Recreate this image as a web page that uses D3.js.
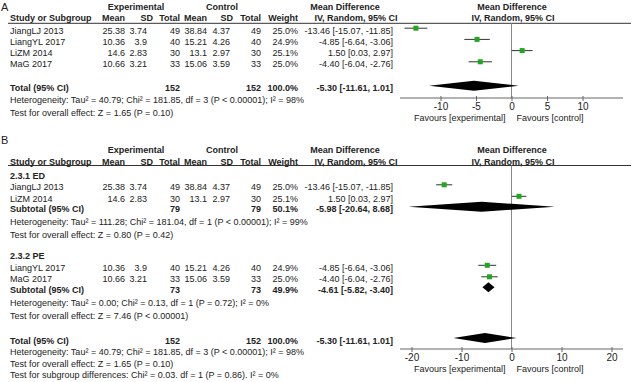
<!DOCTYPE html>
<html>
<head>
<meta charset="utf-8">
<script src="https://cdn.jsdelivr.net/npm/d3@7"></script>
<style>
    body { margin: 0; background: #fff; }
    svg text { font-family: Arial, "Liberation Sans", sans-serif; font-size: 9px; fill: #222; }
    svg text.b { font-weight: bold; }
</style>
</head>
<body>
<div id="chart"></div>
<script>
// study data (same four studies used by both panels)
const studies = ["JiangLJ 2013", "LiangYL 2017", "LiZM 2014", "MaG 2017"];
const expMean = [25.38, 10.36, 14.6, 10.66];
const expSD = [3.74, 3.9, 2.83, 3.21];
const expN = [49, 40, 30, 33];
const ctrlMean = [38.84, 15.21, 13.1, 15.06];
const ctrlSD = [4.37, 4.26, 2.97, 3.59];
const ctrlN = [49, 40, 30, 33];
const weight = [25.0, 24.9, 25.1, 25.0];
const md = [-13.46, -4.85, 1.50, -4.40];
const ciLow = [-15.07, -6.64, 0.03, -6.04];
const ciHigh = [-11.85, -3.06, 2.97, -2.76];

// pooled estimates
const subgroups = ["2.3.1 ED", "2.3.2 PE"];
const subgroupStudies = [[0, 2], [1, 3]];
const subgroupN = [[79, 79], [73, 73]];
const subgroupWeight = [50.1, 49.9];
const subgroupMD = [-5.98, -4.61];
const subgroupLow = [-20.64, -5.82];
const subgroupHigh = [8.68, -3.40];
const subgroupHet = [
    "Heterogeneity: Tau² = 111.28; Chi² = 181.04, df = 1 (P < 0.00001); I² = 99%",
    "Heterogeneity: Tau² = 0.00; Chi² = 0.13, df = 1 (P = 0.72); I² = 0%"
];
const subgroupTest = [
    "Test for overall effect: Z = 0.80 (P = 0.42)",
    "Test for overall effect: Z = 7.46 (P < 0.00001)"
];
const totalN = [152, 152];
const totalWeight = 100.0;
const totalMD = -5.30, totalLow = -11.61, totalHigh = 1.01;
const totalHet = "Heterogeneity: Tau² = 40.79; Chi² = 181.85, df = 3 (P < 0.00001); I² = 98%";
const totalTest = "Test for overall effect: Z = 1.65 (P = 0.10)";
const subgroupDiff = "Test for subgroup differences: Chi² = 0.03. df = 1 (P = 0.86). I² = 0%";

const ticksA = [-10, -5, 0, 5, 10];
const ticksB = [-20, -10, 0, 10, 20];
const domainA = [-15.7, 15.7];
const domainB = [-22.3, 22.3];

const f2 = v => v.toFixed(2);
const f1 = v => v.toFixed(1);
const ciText = (m, l, h) => `${f2(m)} [${f2(l)}, ${f2(h)}]`;

const svg = d3.select('#chart')
    .append('svg')
    .attr('width', 633)
    .attr('height', 382);

// column anchors (text-anchor end unless noted)
const col = { study: 10, em: 125, esd: 147, en: 180, cm: 207, csd: 230, cn: 261, w: 298, ci: 393 };
const plotRange = [400, 623];
const markShift = -2.5;

function txt(g, x, y, s, anchor, bold) {
    return g.append('text')
        .attr('x', x).attr('y', y).attr('dy', '0.35em')
        .attr('text-anchor', anchor || 'start')
        .attr('class', bold ? 'b' : null)
        .text(s);
}

function drawPanel(p) {
    const g = svg.append('g');
    const x = d3.scaleLinear().domain(p.domain).range(plotRange);
    const sq = d3.scaleSqrt().domain([0, 25]).range([0, 5]);

    // headers
    g.append('text').attr('x', 1).attr('y', p.labelY).attr('dy', '0.35em')
        .style('font-size', '11px').text(p.label);
    txt(g, 136, p.head, 'Experimental', 'middle', true);
    txt(g, 222, p.head, 'Control', 'middle', true);
    txt(g, 345, p.head, 'Mean Difference', 'middle', true);
    txt(g, 512, p.head, 'Mean Difference', 'middle', true);
    const h2 = p.head + 11.7;
    txt(g, col.study, h2, 'Study or Subgroup', 'start', true);
    txt(g, 125, h2, 'Mean', 'end', true);
    txt(g, 153, h2, 'SD', 'end', true);
    txt(g, 180, h2, 'Total', 'end', true);
    txt(g, 207, h2, 'Mean', 'end', true);
    txt(g, 233, h2, 'SD', 'end', true);
    txt(g, 261, h2, 'Total', 'end', true);
    txt(g, 298, h2, 'Weight', 'end', true);
    txt(g, 356, h2, 'IV, Random, 95% CI', 'middle', true);
    txt(g, 513, h2, 'IV, Random, 95% CI', 'middle', true);

    g.append('line')
        .attr('x1', 8).attr('x2', 631)
        .attr('y1', p.rule).attr('y2', p.rule)
        .attr('stroke', '#333').attr('stroke-width', 1);

    // zero line
    g.append('line')
        .attr('x1', x(0)).attr('x2', x(0))
        .attr('y1', p.rule).attr('y2', p.axisY)
        .attr('stroke', '#888').attr('stroke-width', 1);

    p.rows.forEach(r => {
        if (r.type === 'study') {
            const i = r.i;
            txt(g, col.study, r.y, studies[i]);
            txt(g, col.em, r.y, expMean[i], 'end');
            txt(g, col.esd, r.y, expSD[i], 'end');
            txt(g, col.en, r.y, expN[i], 'end');
            txt(g, col.cm, r.y, ctrlMean[i], 'end');
            txt(g, col.csd, r.y, ctrlSD[i], 'end');
            txt(g, col.cn, r.y, ctrlN[i], 'end');
            txt(g, col.w, r.y, f1(weight[i]) + '%', 'end');
            txt(g, col.ci, r.y, ciText(md[i], ciLow[i], ciHigh[i]), 'end');
            const ym = r.y + markShift;
            g.append('line')
                .attr('x1', x(ciLow[i])).attr('x2', x(ciHigh[i]))
                .attr('y1', ym).attr('y2', ym)
                .attr('stroke', '#333').attr('stroke-width', 1);
            const s = sq(weight[i]);
            g.append('rect')
                .attr('x', x(md[i]) - s / 2).attr('y', ym - s / 2)
                .attr('width', s).attr('height', s)
                .attr('fill', '#1ea81e');
        } else if (r.type === 'pool') {
            txt(g, col.study, r.y, r.label, 'start', true);
            txt(g, col.en, r.y, r.n[0], 'end', true);
            txt(g, col.cn, r.y, r.n[1], 'end', true);
            txt(g, col.w, r.y, f1(r.w) + '%', 'end', true);
            txt(g, col.ci, r.y, ciText(r.m, r.l, r.h), 'end', true);
            const ym = r.y + markShift;
            const dh = 5;
            g.append('polygon')
                .attr('points', [[x(r.l), ym], [x(r.m), ym - dh], [x(r.h), ym], [x(r.m), ym + dh]].join(' '))
                .attr('fill', '#000');
        } else if (r.type === 'group') {
            txt(g, col.study, r.y, r.label, 'start', true);
        } else {
            txt(g, col.study, r.y, r.label);
        }
    });

    // axis
    const axis = d3.axisBottom(x)
        .tickValues(p.ticks)
        .tickFormat(d => d)
        .tickSize(3)
        .tickPadding(2);
    const ag = g.append('g')
        .attr('transform', `translate(0,${p.axisY})`)
        .call(axis);
    ag.select('.domain').attr('stroke', '#666').attr('d', `M${plotRange[0]},0H${plotRange[1]}`);
    ag.selectAll('.tick line').attr('stroke', '#666').attr('y1', -2).attr('y2', 3);
    ag.selectAll('.tick text')
        .attr('fill', '#222')
        .style('font-size', '10px')
        .style('font-family', 'Arial, "Liberation Sans", sans-serif');

    txt(g, x(0) - 6, p.axisY + 19.5, 'Favours [experimental]', 'end');
    txt(g, x(0) + 5, p.axisY + 19.5, 'Favours [control]', 'start');
}

// panel A: overall analysis
drawPanel({
    label: 'A', labelY: 7, head: 6.5, rule: 23.3, axisY: 98, domain: domainA, ticks: ticksA,
    rows: [
        { type: 'study', i: 0, y: 30.7 },
        { type: 'study', i: 1, y: 41.9 },
        { type: 'study', i: 2, y: 53.1 },
        { type: 'study', i: 3, y: 64.3 },
        { type: 'pool', label: 'Total (95% CI)', n: totalN, w: totalWeight, m: totalMD, l: totalLow, h: totalHigh, y: 88.3 },
        { type: 'note', label: totalHet, y: 100 },
        { type: 'note', label: totalTest, y: 112.5 }
    ]
});

// panel B: subgroup analysis
const rowsB = [];
const gY = [175.5, 256];
subgroups.forEach((sg, k) => {
    const y0 = gY[k];
    rowsB.push({ type: 'group', label: sg, y: y0 });
    subgroupStudies[k].forEach((i, j) => rowsB.push({ type: 'study', i: i, y: y0 + 11.8 + j * 11.5 }));
    rowsB.push({ type: 'pool', label: 'Subtotal (95% CI)', n: subgroupN[k], w: subgroupWeight[k],
        m: subgroupMD[k], l: subgroupLow[k], h: subgroupHigh[k], y: y0 + 33.8 });
    rowsB.push({ type: 'note', label: subgroupHet[k], y: y0 + 46.8 });
    rowsB.push({ type: 'note', label: subgroupTest[k], y: y0 + 59.5 });
});
rowsB.push({ type: 'pool', label: 'Total (95% CI)', n: totalN, w: totalWeight, m: totalMD, l: totalLow, h: totalHigh, y: 340.5 });
rowsB.push({ type: 'note', label: totalHet, y: 352 });
rowsB.push({ type: 'note', label: totalTest, y: 363.5 });
rowsB.push({ type: 'note', label: subgroupDiff, y: 375 });

drawPanel({
    label: 'B', labelY: 140.5, head: 150, rule: 165.5, axisY: 349, domain: domainB, ticks: ticksB, rows: rowsB
});
</script>
</body>
</html>
